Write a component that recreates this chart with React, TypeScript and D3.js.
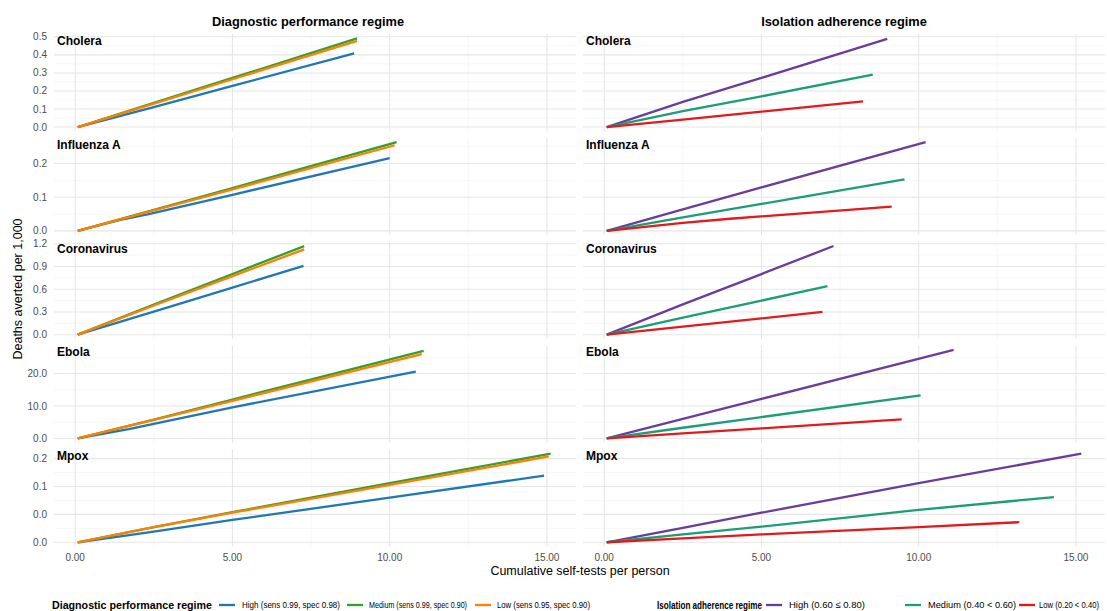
import React from "react";
import * as d3 from "d3";

type Pt = [number, number];

// ---------- data ----------
const diseases = ["Cholera", "Influenza A", "Coronavirus", "Ebola", "Mpox"];

const diagLevels = ["High", "Medium", "Low"];
const diagLabels = ["High (sens 0.99, spec 0.98)", "Medium (sens 0.99, spec 0.90)", "Low (sens 0.95, spec 0.90)"];
const diagColors = ["#1f78b4", "#33a02c", "#ff7f00"];

const isoLevels = ["High", "Medium", "Low"];
const isoLabels = ["High (0.60 \u2264 0.80)", "Medium (0.40 < 0.60)", "Low (0.20 < 0.40)"];
const isoColors = ["#6a3d9a", "#1b9e77", "#e31a1c"];

const xTicks = [0, 5, 10, 15];
const xTickLabels = ["0.00", "5.00", "10.00", "15.00"];

const yTicksCholera = [0, 0.1, 0.2, 0.3, 0.4, 0.5];
const yLabelsCholera = ["0.0", "0.1", "0.2", "0.3", "0.4", "0.5"];
const yTicksInfluenza = [0, 0.1, 0.2];
const yLabelsInfluenza = ["0.0", "0.1", "0.2"];
const yTicksCorona = [0, 0.3, 0.6, 0.9, 1.2];
const yLabelsCorona = ["0.0", "0.3", "0.6", "0.9", "1.2"];
const yTicksEbola = [0, 10, 20];
const yLabelsEbola = ["0.0", "10.0", "20.0"];
const yTicksMpox = [0, 0.05, 0.1, 0.15];
const yLabelsMpox = ["0.0", "0.0", "0.1", "0.2"];

// Diagnostic performance regime (High, Medium, Low)
const choleraDiag: Pt[][] = [
  [[0.08, 0], [2.5, 0.111], [5.0, 0.228], [8.87, 0.408]],
  [[0.08, 0], [2.5, 0.134], [5.0, 0.272], [8.96, 0.491]],
  [[0.08, 0], [2.5, 0.130], [5.0, 0.265], [8.96, 0.478]],
];
const influenzaDiag: Pt[][] = [
  [[0.08, 0], [1.4, 0.032], [2.3, 0.049], [5.0, 0.107], [10.0, 0.216]],
  [[0.08, 0], [2.5, 0.062], [5.0, 0.127], [10.22, 0.263]],
  [[0.08, 0], [2.5, 0.061], [5.0, 0.123], [10.16, 0.254]],
];
const coronaDiag: Pt[][] = [
  [[0.08, 0], [2.5, 0.305], [5.0, 0.622], [7.26, 0.908]],
  [[0.08, 0], [2.5, 0.397], [5.0, 0.801], [7.28, 1.169]],
  [[0.08, 0], [2.5, 0.385], [5.0, 0.772], [7.28, 1.126]],
];
const ebolaDiag: Pt[][] = [
  [[0.08, 0], [1.7, 2.9], [5.0, 9.6], [10.83, 20.6]],
  [[0.08, 0], [2.5, 5.8], [5.0, 12.0], [11.08, 27.0]],
  [[0.08, 0], [2.5, 5.7], [5.0, 11.6], [11.02, 26.0]],
];
const mpoxDiag: Pt[][] = [
  [[0.08, 0], [2.5, 0.019], [5.0, 0.040], [10.0, 0.080], [14.91, 0.1195]],
  [[0.08, 0], [2.5, 0.027], [5.0, 0.054], [10.0, 0.106], [15.12, 0.159]],
  [[0.08, 0], [2.5, 0.027], [5.0, 0.053], [10.0, 0.103], [15.06, 0.154]],
];

// Isolation adherence regime (High, Medium, Low)
const choleraIso: Pt[][] = [
  [[0.08, 0], [2.5, 0.14], [5.0, 0.272], [9.0, 0.489]],
  [[0.08, 0], [2.5, 0.088], [5.0, 0.17], [8.54, 0.29]],
  [[0.08, 0], [2.5, 0.041], [5.0, 0.085], [8.23, 0.142]],
];
const influenzaIso: Pt[][] = [
  [[0.08, 0], [2.5, 0.064], [5.0, 0.129], [10.22, 0.263]],
  [[0.08, 0], [2.5, 0.04], [5.0, 0.08], [9.55, 0.153]],
  [[0.08, 0], [2.5, 0.024], [4.0, 0.036], [9.14, 0.072]],
];
const coronaIso: Pt[][] = [
  [[0.08, 0], [2.5, 0.40], [5.0, 0.80], [7.29, 1.17]],
  [[0.08, 0], [2.5, 0.225], [5.0, 0.45], [7.1, 0.64]],
  [[0.08, 0], [2.5, 0.107], [5.0, 0.215], [6.94, 0.30]],
];
const ebolaIso: Pt[][] = [
  [[0.08, 0], [2.5, 6.0], [5.0, 12.2], [11.11, 27.3]],
  [[0.08, 0], [2.5, 3.3], [5.0, 6.6], [10.06, 13.3]],
  [[0.08, 0], [2.5, 1.6], [5.0, 3.1], [9.46, 5.9]],
];
const mpoxIso: Pt[][] = [
  [[0.08, 0], [2.5, 0.026], [5.0, 0.053], [10.0, 0.106], [15.17, 0.159]],
  [[0.08, 0], [2.5, 0.014], [5.0, 0.028], [10.0, 0.058], [14.3, 0.081]],
  [[0.08, 0], [2.5, 0.007], [5.0, 0.014], [10.0, 0.027], [13.2, 0.036]],
];

const diagByDisease = [choleraDiag, influenzaDiag, coronaDiag, ebolaDiag, mpoxDiag];
const isoByDisease = [choleraIso, influenzaIso, coronaIso, ebolaIso, mpoxIso];
const yTicksByDisease = [yTicksCholera, yTicksInfluenza, yTicksCorona, yTicksEbola, yTicksMpox];
const yLabelsByDisease = [yLabelsCholera, yLabelsInfluenza, yLabelsCorona, yLabelsEbola, yLabelsMpox];

// ---------- layout ----------
const W = 1107;
const H = 611;
const FONT = "'Liberation Sans', Arial, Helvetica, sans-serif";
const colX = [[54, 576], [583, 1105]];
const rowTop0 = 34;
const rowPitch = 103.8;
const rowH = 97.5;

function expand(lo: number, hi: number): [number, number] {
  const r = hi - lo;
  return [lo - 0.05 * r, hi + 0.05 * r];
}

const allX = [...diagByDisease, ...isoByDisease].flat(2).map((p) => p[0]);
const xDomain = expand(d3.min(allX)!, d3.max(allX)!);

function minorBreaks(ticks: number[], dom: [number, number]) {
  const step = ticks[1] - ticks[0];
  const out: number[] = [];
  for (let v = ticks[0] - step / 2; v <= dom[1]; v += step) {
    if (v >= dom[0]) out.push(v);
  }
  return out;
}

const line = d3.line<Pt>();

export default function App() {
  const panels: React.ReactNode[] = [];

  diseases.forEach((dis, r) => {
    const top = rowTop0 + r * rowPitch;
    const bottom = top + rowH;
    const ys = [...diagByDisease[r], ...isoByDisease[r]].flat().map((p) => p[1]);
    const yDom = expand(Math.min(0, d3.min(ys)!), d3.max(ys)!);
    const y = d3.scaleLinear().domain(yDom).range([bottom, top]);
    const yT = yTicksByDisease[r];
    const yMinor = minorBreaks(yT, yDom as [number, number]);

    [0, 1].forEach((c) => {
      const [x0, x1] = colX[c];
      const x = d3.scaleLinear().domain(xDomain).range([x0, x1]);
      const xMinor = minorBreaks(xTicks, xDomain as [number, number]);
      const series = c === 0 ? diagByDisease[r] : isoByDisease[r];
      const colors = c === 0 ? diagColors : isoColors;
      line.x((d) => x(d[0])).y((d) => y(d[1]));
      panels.push(
        <g key={`${r}-${c}`}>
          {yMinor.map((v, i) => (
            <line key={`ym${i}`} x1={x0} x2={x1} y1={y(v)} y2={y(v)} stroke="#EFEFEF" strokeWidth={0.55} />
          ))}
          {xMinor.map((v, i) => (
            <line key={`xm${i}`} x1={x(v)} x2={x(v)} y1={top} y2={bottom} stroke="#EFEFEF" strokeWidth={0.55} />
          ))}
          {yT.map((v, i) => (
            <line key={`yM${i}`} x1={x0} x2={x1} y1={y(v)} y2={y(v)} stroke="#E6E6E6" strokeWidth={1.05} />
          ))}
          {xTicks.map((v, i) => (
            <line key={`xM${i}`} x1={x(v)} x2={x(v)} y1={top} y2={bottom} stroke="#E6E6E6" strokeWidth={1.05} />
          ))}
          {series.map((s, i) => (
            <path key={`s${i}`} d={line(s) || ""} fill="none" stroke={colors[i]} strokeWidth={2.3} strokeLinecap="butt" strokeLinejoin="round" />
          ))}
          <text x={x0 + 3} y={top + 11} fontFamily={FONT} fontWeight="bold" fontSize={12} fill="#000">
            {dis}
          </text>
          {c === 0 &&
            yT.map((v, i) => (
              <text key={`yl${i}`} x={47} y={y(v)} dy="0.35em" textAnchor="end" fontFamily={FONT} fontSize={10} fill="#4D4D4D">
                {yLabelsByDisease[r][i]}
              </text>
            ))}
          {r === diseases.length - 1 &&
            xTicks.map((v, i) => (
              <text key={`xl${i}`} x={x(v)} y={557} dy="0.35em" textAnchor="middle" fontFamily={FONT} fontSize={10} fill="#4D4D4D">
                {xTickLabels[i]}
              </text>
            ))}
        </g>
      );
    });
  });

  const legendY = 605;
  const diagLeg = { title: [52, 160], keys: [219, 347, 475], labels: [[242, 98], [369, 98], [497, 93]] };
  const isoLeg = { title: [657, 105], keys: [766, 905, 1019], labels: [[789, 0], [928, 88], [1039, 60]] };

  const legend = (
    title: string,
    labels: string[],
    colors: string[],
    L: { title: number[]; keys: number[]; labels: number[][] }
  ) => (
    <g>
      <text x={L.title[0]} y={legendY} dy="0.35em" fontFamily={FONT} fontWeight="bold" fontSize={10.5} fill="#000"
        textLength={L.title[1]} lengthAdjust="spacingAndGlyphs">
        {title}
      </text>
      {labels.map((lab, i) => (
        <g key={i}>
          <line x1={L.keys[i]} x2={L.keys[i] + 16} y1={legendY} y2={legendY} stroke={colors[i]} strokeWidth={2.3} />
          {L.labels[i][1] > 0 ? (
            <text x={L.labels[i][0]} y={legendY} dy="0.35em" fontFamily={FONT} fontSize={8.8} fill="#000"
              textLength={L.labels[i][1]} lengthAdjust="spacingAndGlyphs">
              {lab}
            </text>
          ) : (
            <text x={L.labels[i][0]} y={legendY} dy="0.35em" fontFamily={FONT} fontSize={9.5} fill="#000">
              {lab}
            </text>
          )}
        </g>
      ))}
    </g>
  );

  return (
    <svg width={W} height={H} style={{ position: "absolute", left: 0, top: 0, background: "#fff" }}>
      <rect x={0} y={0} width={W} height={H} fill="#fff" />
      <text x={308} y={22} dy="0.35em" textAnchor="middle" fontFamily={FONT} fontWeight="bold" fontSize={12.8} fill="#000">
        Diagnostic performance regime
      </text>
      <text x={844} y={22} dy="0.35em" textAnchor="middle" fontFamily={FONT} fontWeight="bold" fontSize={12.8} fill="#000">
        Isolation adherence regime
      </text>
      {panels}
      <text transform="translate(18,289) rotate(-90)" dy="0.35em" textAnchor="middle" fontFamily={FONT} fontSize={12.5} fill="#000">
        Deaths averted per 1,000
      </text>
      <text x={580} y={571} dy="0.35em" textAnchor="middle" fontFamily={FONT} fontSize={12.5} fill="#000">
        Cumulative self-tests per person
      </text>
      {legend("Diagnostic performance regime", diagLabels, diagColors, diagLeg)}
      {legend("Isolation adherence regime", isoLabels, isoColors, isoLeg)}
    </svg>
  );
}
